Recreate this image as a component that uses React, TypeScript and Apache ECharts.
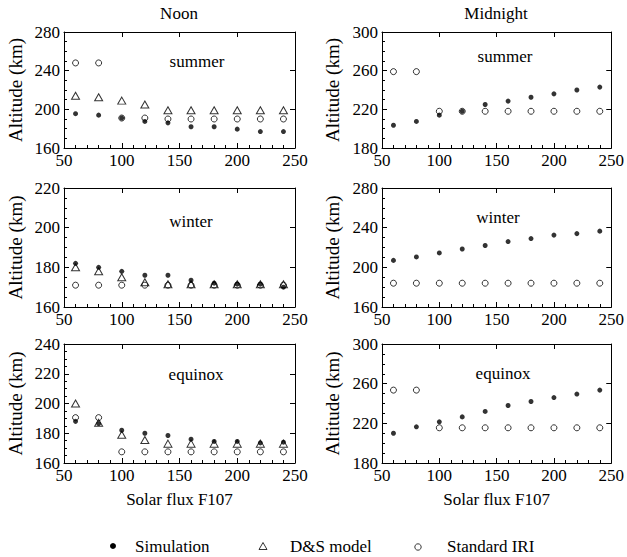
import React, { useEffect, useRef } from "react";
import * as echarts from "echarts";

const flux = [60, 80, 100, 120, 140, 160, 180, 200, 220, 240];
const xTicks = [50, 100, 150, 200, 250];

const simNoonSummer = [195.5, 194, 191, 187.5, 186, 182, 182, 179.5, 177, 177];
const dsNoonSummer = [214, 212.5, 209, 205, 199, 199, 199, 199, 199, 199];
const iriNoonSummer = [248, 248, 191, 191, 190, 190, 190, 190, 190, 190];

const simMidSummer = [203.5, 207.5, 214, 218, 225, 228.5, 232.5, 236, 240, 243];
const iriMidSummer = [259, 259, 218, 218, 218, 218, 218, 218, 218, 218];

const simNoonWinter = [182, 180, 178, 176, 176, 173.5, 172, 171.5, 171.5, 170];
const dsNoonWinter = [180, 178, 175, 172.5, 171.5, 171.5, 171.5, 171.5, 171.5, 171.5];
const iriNoonWinter = [171, 171, 171, 171, 171, 171, 171, 171, 171, 171];

const simMidWinter = [207, 210.5, 214.5, 218.5, 222, 226, 229, 232.5, 234, 236.5];
const iriMidWinter = [184, 184, 184, 184, 184, 184, 184, 184, 184, 184];

const simNoonEquinox = [188, 186.5, 182, 180, 178.5, 176, 174.5, 174.5, 173.5, 174];
const dsNoonEquinox = [200, 187, 179, 175.5, 173, 173, 173, 173, 173, 173];
const iriNoonEquinox = [190.5, 190.5, 167.5, 167.5, 167.5, 167.5, 167.5, 167.5, 167.5, 167.5];

const simMidEquinox = [210, 216.5, 221.5, 226.5, 232, 238, 242, 246, 249.5, 253.5];
const iriMidEquinox = [253.5, 253.5, 215.5, 215.5, 215.5, 215.5, 215.5, 215.5, 215.5, 215.5];

const columnTitles = ["Noon", "Midnight"];
const seasonLabels = ["summer", "winter", "equinox"];
const legendNames = ["Simulation", "D&S model", "Standard IRI"];
const xAxisTitle = "Solar flux F107";
const yAxisTitle = "Altitude (km)";

const FONT = "Liberation Serif";

type Panel = {
  sim: number[];
  ds: number[] | null;
  iri: number[];
  yMin: number;
  yMax: number;
  yInterval: number;
  row: number;
  col: number;
  labelPos: [number, number];
};

const panels: Panel[] = [
  { sim: simNoonSummer, ds: dsNoonSummer, iri: iriNoonSummer, yMin: 160, yMax: 280, yInterval: 40, row: 0, col: 0, labelPos: [197, 61] },
  { sim: simMidSummer, ds: null, iri: iriMidSummer, yMin: 180, yMax: 300, yInterval: 40, row: 0, col: 1, labelPos: [505, 56] },
  { sim: simNoonWinter, ds: dsNoonWinter, iri: iriNoonWinter, yMin: 160, yMax: 220, yInterval: 20, row: 1, col: 0, labelPos: [191, 221] },
  { sim: simMidWinter, ds: null, iri: iriMidWinter, yMin: 160, yMax: 280, yInterval: 40, row: 1, col: 1, labelPos: [498, 217] },
  { sim: simNoonEquinox, ds: dsNoonEquinox, iri: iriNoonEquinox, yMin: 160, yMax: 240, yInterval: 20, row: 2, col: 0, labelPos: [196, 374] },
  { sim: simMidEquinox, ds: null, iri: iriMidEquinox, yMin: 180, yMax: 300, yInterval: 40, row: 2, col: 1, labelPos: [503, 373] },
];

const gridLefts = [64, 382];
const gridWidth = 231;
const gridTops = [32, 188, 344];
const gridHeights = [116, 119, 119];

function textEl(x: number, y: number, text: string, align: string, size = 17) {
  return {
    type: "text",
    x,
    y,
    style: {
      text,
      fill: "#000",
      fontFamily: FONT,
      fontSize: size,
      align,
      verticalAlign: "middle",
    },
  };
}

function buildOption() {
  const grid: any[] = [];
  const xAxis: any[] = [];
  const yAxis: any[] = [];
  const series: any[] = [];
  const graphic: any[] = [];

  const lineStyle = { color: "#000", width: 1 };
  const tickLabel = { color: "#000", fontFamily: FONT, fontSize: 17 };

  panels.forEach((p, i) => {
    grid.push({
      left: gridLefts[p.col],
      top: gridTops[p.row],
      width: gridWidth,
      height: gridHeights[p.row],
      containLabel: false,
    });
    xAxis.push({
      type: "value",
      gridIndex: i,
      position: "bottom",
      min: xTicks[0],
      max: xTicks[xTicks.length - 1],
      interval: 50,
      name: p.row === 2 ? xAxisTitle : "",
      nameLocation: "middle",
      nameGap: 28,
      nameTextStyle: { color: "#000", fontFamily: FONT, fontSize: 17 },
      axisLine: { show: true, lineStyle },
      axisTick: { show: true, inside: true, length: 5, lineStyle },
      minorTick: { show: true, splitNumber: 5, length: 3, lineStyle },
      axisLabel: { ...tickLabel, margin: 4, showMinLabel: true, showMaxLabel: true },
      splitLine: { show: false },
      minorSplitLine: { show: false },
    });
    xAxis.push({
      type: "value",
      gridIndex: i,
      position: "top",
      min: xTicks[0],
      max: xTicks[xTicks.length - 1],
      interval: 50,
      axisLine: { show: true, lineStyle },
      axisTick: { show: true, inside: true, length: 5, lineStyle },
      axisLabel: { show: false },
      splitLine: { show: false },
    });
    yAxis.push({
      type: "value",
      gridIndex: i,
      position: "left",
      min: p.yMin,
      max: p.yMax,
      interval: p.yInterval,
      name: yAxisTitle,
      nameLocation: "middle",
      nameGap: p.col === 0 ? 39 : 40,
      nameTextStyle: { color: "#000", fontFamily: FONT, fontSize: 19 },
      axisLine: { show: true, lineStyle },
      axisTick: { show: true, inside: true, length: 5, lineStyle },
      minorTick: { show: true, splitNumber: 4, length: 3, lineStyle },
      axisLabel: { ...tickLabel, margin: 4, showMinLabel: true, showMaxLabel: true },
      splitLine: { show: false },
      minorSplitLine: { show: false },
    });
    yAxis.push({
      type: "value",
      gridIndex: i,
      position: "right",
      min: p.yMin,
      max: p.yMax,
      interval: p.yInterval,
      axisLine: { show: true, lineStyle },
      axisTick: { show: true, inside: true, length: 5, lineStyle },
      axisLabel: { show: false },
      splitLine: { show: false },
    });

    const xi = i * 2;
    const yi = i * 2;
    series.push({
      name: legendNames[2],
      type: "scatter",
      xAxisIndex: xi,
      yAxisIndex: yi,
      symbol: "circle",
      symbolSize: 6,
      itemStyle: { color: "rgba(0,0,0,0)", borderColor: "#000", borderWidth: 1 },
      data: flux.map((f, k) => [f, p.iri[k]]),
      z: 2,
    });
    if (p.ds) {
      series.push({
        name: legendNames[1],
        type: "scatter",
        xAxisIndex: xi,
        yAxisIndex: yi,
        symbol: "triangle",
        symbolSize: [8, 7],
        itemStyle: { color: "rgba(0,0,0,0)", borderColor: "#000", borderWidth: 1 },
        data: flux.map((f, k) => [f, (p.ds as number[])[k]]),
        z: 3,
      });
    }
    series.push({
      name: legendNames[0],
      type: "scatter",
      xAxisIndex: xi,
      yAxisIndex: yi,
      symbol: "circle",
      symbolSize: 5,
      itemStyle: { color: "#000" },
      data: flux.map((f, k) => [f, p.sim[k]]),
      z: 1,
    });

    graphic.push(textEl(p.labelPos[0], p.labelPos[1], seasonLabels[p.row], "center"));
  });

  graphic.push(textEl(179, 13, columnTitles[0], "center"));
  graphic.push(textEl(496, 13, columnTitles[1], "center"));

  const ly = 546;
  graphic.push({ type: "circle", shape: { cx: 113, cy: ly, r: 3 }, style: { fill: "#000" } });
  graphic.push(textEl(135, ly, legendNames[0], "left"));
  graphic.push({
    type: "polygon",
    shape: { points: [[259, ly + 3.5], [267, ly + 3.5], [263, ly - 3.5]] },
    style: { fill: "none", stroke: "#000", lineWidth: 0.8 },
  });
  graphic.push(textEl(290, ly, legendNames[1], "left"));
  graphic.push({ type: "circle", shape: { cx: 418, cy: ly + 1, r: 3.2 }, style: { fill: "none", stroke: "#000", lineWidth: 0.8 } });
  graphic.push(textEl(447, ly, legendNames[2], "left"));

  return {
    animation: false,
    backgroundColor: "#fff",
    textStyle: { fontFamily: FONT },
    grid,
    xAxis,
    yAxis,
    series,
    graphic,
  };
}

export default function App() {
  const ref = useRef<HTMLDivElement>(null);
  useEffect(() => {
    if (!ref.current) return;
    const chart = echarts.init(ref.current, undefined, { renderer: "svg" });
    chart.setOption(buildOption() as any);
    return () => chart.dispose();
  }, []);
  return (
    <div
      ref={ref}
      style={{ position: "absolute", left: 0, top: 0, width: 627, height: 557, background: "#fff" }}
    />
  );
}
